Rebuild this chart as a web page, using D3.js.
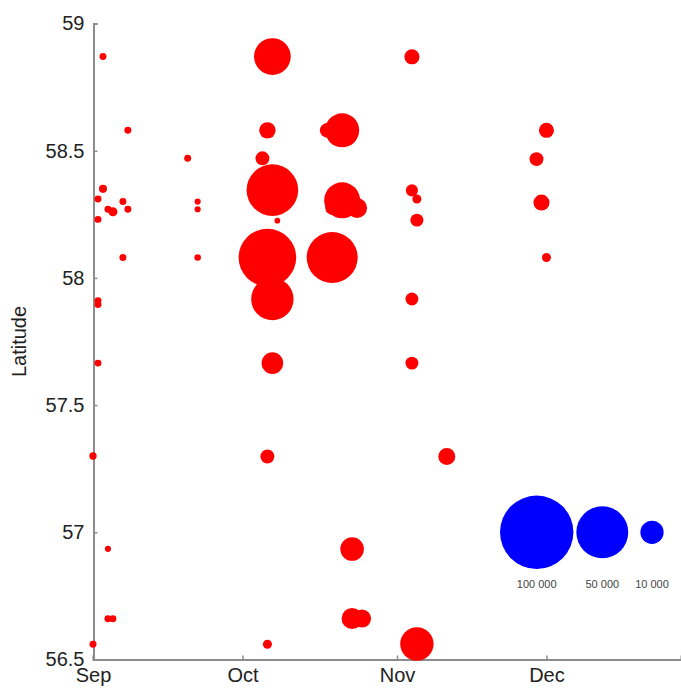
<!DOCTYPE html>
<html>
<head>
<meta charset="utf-8">
<script src="https://cdn.jsdelivr.net/npm/d3@7"></script>
<style>
  body { margin: 0; background: #fff; }
  svg text { font-family: "Liberation Sans", Arial, sans-serif; }
</style>
</head>
<body>
<svg id="chart" width="681" height="691"></svg>
<script>
/* bubble chart: catches by date and latitude, bubble area ~ amount */

// dates of each observation
let obsDates = [
  "09-03", "09-08", "09-20", "09-03", "09-02", "09-04", "09-05", "09-07", "09-08", "09-02",
  "09-22", "09-22", "09-07", "09-22", "09-02", "09-02", "09-02", "09-01", "09-04", "09-04",
  "09-05", "09-01",
  "10-07", "10-06", "10-18", "10-21", "10-05", "10-07", "10-08", "10-19", "10-21", "10-24",
  "10-06", "10-19", "10-07", "10-07", "10-06", "10-23", "10-23", "10-25", "10-06",
  "11-05", "11-11", "11-04", "11-04", "11-05", "11-05", "11-04", "11-04",
  "11-29", "12-01", "11-30", "12-01"
];
// latitude of each observation
let obsLat = [
  58.87, 58.58, 58.47, 58.35, 58.31, 58.27, 58.26, 58.30, 58.27, 58.23,
  58.30, 58.27, 58.08, 58.08, 57.91, 57.895, 57.665, 57.30, 56.935, 56.66,
  56.66, 56.56,
  58.87, 58.58, 58.58, 58.58, 58.47, 58.345, 58.225, 58.275, 58.305, 58.275,
  58.08, 58.08, 57.917, 57.665, 57.298, 56.934, 56.661, 56.661, 56.56,
  56.561, 57.298, 58.869, 58.344, 58.31, 58.227, 57.917, 57.665,
  58.467, 58.58, 58.296, 58.08
];
// amount of each observation
let obsValue = [
  900, 900, 900, 1200, 900, 900, 1500, 900, 900, 900,
  700, 700, 900, 800, 900, 900, 900, 1000, 700, 900,
  900, 900,
  25000, 5000, 4000, 21500, 3600, 49400, 600, 3600, 24000, 7400,
  61600, 48300, 33400, 8700, 3600, 10300, 8200, 6000, 1500,
  20700, 5360, 4200, 2700, 1500, 3100, 3100, 3100,
  3600, 4200, 4750, 1500
];

// axis ticks
let monthTicks = ["09-01", "10-01", "11-01", "12-01"];
let monthLabels = ["Sep", "Oct", "Nov", "Dec"];
let latTicks = [56.5, 57, 57.5, 58, 58.5, 59];

// legend
let legendValues = [100000, 50000, 10000];
let legendLabels = ["100 000", "50 000", "10 000"];

let parseDay = d3.timeParse("%Y-%m-%d");
function toDate(s)
{
  return parseDay("2013-" + s);
}

let svg = d3.select("#chart");

// scales
let x = d3.scaleTime()
  .domain([toDate("09-01"), toDate("12-28")])
  .range([93, 681]);
let y = d3.scaleLinear()
  .domain([56.5, 59])
  .range([659.5, 23.5]);
let r = d3.scaleSqrt()
  .domain([0, 100000])
  .range([0, 36.7]);

let axisColor = "#8c8c8c";

// y axis, ticks point inward
let yAxis = svg.append("g")
  .attr("transform", "translate(93.5,0)")
  .call(d3.axisLeft(y).tickValues(latTicks).tickSize(-4).tickPadding(9)
    .tickFormat(function (d) { return d; }));
yAxis.select(".domain").attr("stroke", axisColor).attr("stroke-width", 2);
yAxis.selectAll(".tick line").attr("stroke", axisColor).attr("stroke-width", 1.5);
yAxis.selectAll(".tick text")
  .attr("fill", "#222")
  .style("font-size", "20px");

// x axis, ticks point inward
let xAxis = svg.append("g")
  .attr("transform", "translate(0,659.5)")
  .call(d3.axisBottom(x).tickValues(monthTicks.map(toDate)).tickSize(-4).tickPadding(8)
    .tickFormat(function (d, i) { return monthLabels[i]; }));
xAxis.select(".domain").attr("stroke", axisColor).attr("stroke-width", 2);
xAxis.selectAll(".tick line").attr("stroke", axisColor).attr("stroke-width", 1.5);
xAxis.selectAll(".tick text")
  .attr("fill", "#222")
  .style("font-size", "20px");

// axis title
svg.append("text")
  .attr("transform", "translate(26," + ((y(56.5) + y(59)) / 2) + ") rotate(-90)")
  .attr("text-anchor", "middle")
  .attr("fill", "#222")
  .style("font-size", "20px")
  .text("Latitude");

// bubbles
let points = obsDates.map(function (d, i)
{
  return { date: toDate(d), lat: obsLat[i], value: obsValue[i] };
});
svg.append("g")
  .selectAll("circle")
  .data(points)
  .join("circle")
  .attr("cx", function (d) { return x(d.date); })
  .attr("cy", function (d) { return y(d.lat); })
  .attr("r", function (d) { return r(d.value); })
  .style("fill", "#ff0000");

// size legend, sitting on the 57 line
let legendX = [536.7, 602.3, 652];
let legend = svg.append("g");
legend.selectAll("circle")
  .data(legendValues)
  .join("circle")
  .attr("cx", function (d, i) { return legendX[i]; })
  .attr("cy", y(57))
  .attr("r", function (d) { return r(d); })
  .style("fill", "#0000ff");
legend.selectAll("text")
  .data(legendLabels)
  .join("text")
  .attr("x", function (d, i) { return legendX[i]; })
  .attr("y", y(57) + 56)
  .attr("text-anchor", "middle")
  .attr("fill", "#444")
  .style("font-size", "11px")
  .text(function (d) { return d; });
</script>
</body>
</html>
